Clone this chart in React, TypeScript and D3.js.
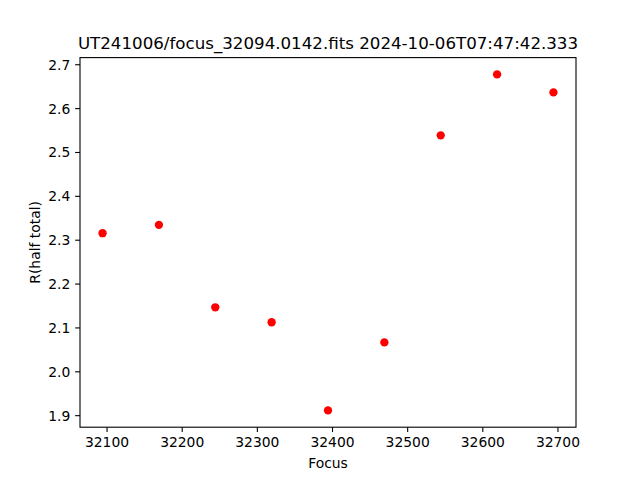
import React from "react";
import * as d3 from "d3";

const focusValues = [32094, 32169, 32244, 32319, 32394, 32469, 32544, 32619, 32694];
const rHalfTotal = [2.316, 2.335, 2.147, 2.113, 1.912, 2.067, 2.539, 2.678, 2.637];
const xTicks = [32100, 32200, 32300, 32400, 32500, 32600, 32700];
const yTicks = [1.9, 2.0, 2.1, 2.2, 2.3, 2.4, 2.5, 2.6, 2.7];
const titleText = "UT241006/focus_32094.0142.fits 2024-10-06T07:47:42.333";

const W = 640, H = 480;
const L = 80, R = 576, T = 57.6, B = 427.2;
const font = "'DejaVu Sans', sans-serif";
const fs = 13.89;
const tl = 4.86;

export default function App() {
  const xmin = d3.min(focusValues)!, xmax = d3.max(focusValues)!;
  const ymin = d3.min(rHalfTotal)!, ymax = d3.max(rHalfTotal)!;
  const xm = (xmax - xmin) * 0.05, ym = (ymax - ymin) * 0.05;
  const x = d3.scaleLinear().domain([xmin - xm, xmax + xm]).range([L, R]);
  const y = d3.scaleLinear().domain([ymin - ym, ymax + ym]).range([B, T]);
  return (
    <svg width={W} height={H} style={{ position: "absolute", left: 0, top: 0 }} fontFamily={font}>
      <rect x={0} y={0} width={W} height={H} fill="white" />
      {focusValues.map((f, i) => (
        <circle key={i} cx={x(f)} cy={y(rHalfTotal[i])} r={4.17} fill="#ff0000" />
      ))}
      <rect x={L} y={T} width={R - L} height={B - T} fill="none" stroke="black" strokeWidth={1.1} />
      {xTicks.map((t) => (
        <g key={t}>
          <line x1={x(t)} x2={x(t)} y1={B} y2={B + tl} stroke="black" strokeWidth={1.1} />
          <text x={x(t)} y={B + 2 * tl} dy="0.76em" textAnchor="middle" fontSize={fs} fill="black">
            {t}
          </text>
        </g>
      ))}
      {yTicks.map((t) => (
        <g key={t}>
          <line x1={L - tl} x2={L} y1={y(t)} y2={y(t)} stroke="black" strokeWidth={1.1} />
          <text x={L - 2 * tl} y={y(t)} dy="0.36em" textAnchor="end" fontSize={fs} fill="black">
            {t.toFixed(1)}
          </text>
        </g>
      ))}
      <text x={(L + R) / 2} y={468} textAnchor="middle" fontSize={fs} fill="black">Focus</text>
      <text transform={`translate(39.5,${(T + B) / 2}) rotate(-90)`} textAnchor="middle" fontSize={fs} fill="black">
        R(half total)
      </text>
      <text x={(L + R) / 2} y={49.3} textAnchor="middle" fontSize={16.67} fill="black">{titleText}</text>
    </svg>
  );
}
